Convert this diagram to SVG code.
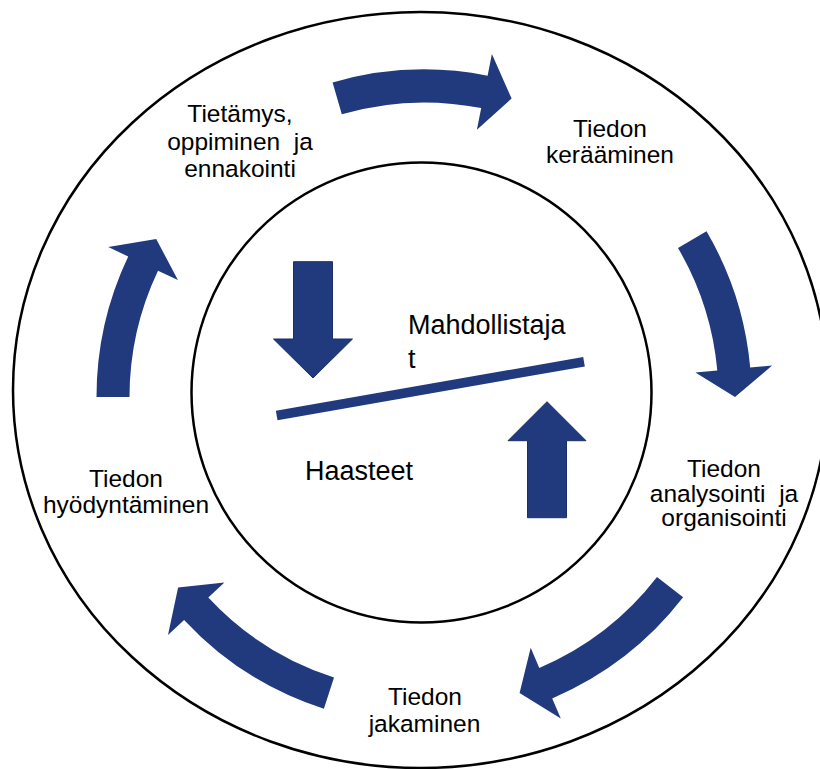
<svg xmlns="http://www.w3.org/2000/svg" width="820" height="769" viewBox="0 0 820 769">
  <style>
    .ring { fill: none; stroke: #000; stroke-width: 2.5; }
    .flow { fill: #213A7E; }
    .force { fill: #213A7E; stroke: #1A2F66; stroke-width: 1; }
    .lbl { font-family: "Liberation Sans", Arial, sans-serif; font-size: 24.5px; fill: #000; text-anchor: middle; }
    .mid { font-family: "Liberation Sans", Arial, sans-serif; font-size: 27px; fill: #000; }
  </style>
  <rect width="820" height="769" fill="#fff"/>

  <!-- rings -->
  <g id="rings">
    <ellipse class="ring" cx="420.5" cy="390" rx="407.5" ry="378"/>
    <circle class="ring" cx="421.5" cy="392.5" r="230"/>
  </g>

  <!-- cycle arrows (clockwise, centre 424,397, mid radius 311) -->
  <g id="connectors">
    <path class="flow" d="M332.6,82.5 A327.5,327.5 0 0 1 487.6,75.7 L491.9,54.1 L511.6,98.6 L476.9,129.7 L481.2,108.1 A294.5,294.5 0 0 0 341.8,114.2 Z"/>
    <path class="flow" d="M706.5,231.3 A327.5,327.5 0 0 1 750.2,367.6 L772.1,365.6 L735,397 L695.4,372.5 L717.3,370.6 A294.5,294.5 0 0 0 678,248 Z"/>
    <path class="flow" d="M683.1,597.3 A327.5,327.5 0 0 1 552.2,698.4 L560.8,718.6 L519.6,692.9 L530.7,647.8 L539.3,668 A294.5,294.5 0 0 0 657,577.1 Z"/>
    <path class="flow" d="M323.9,708.8 A327.5,327.5 0 0 1 184.1,619.9 L168,634.9 L178.1,587.4 L224.4,582.5 L208.3,597.5 A294.5,294.5 0 0 0 334,677.4 Z"/>
    <path class="flow" d="M96.5,397 A327.5,327.5 0 0 1 128.2,256.5 L108.3,247.1 L156.2,238.9 L177.9,280.1 L158,270.7 A294.5,294.5 0 0 0 129.5,397 Z"/>
  </g>

  <!-- cycle stages -->
  <g id="stage-learning">
    <text class="lbl" x="240" y="121.7">Tietämys,</text>
    <text class="lbl" x="240" y="149.5" xml:space="preserve">oppiminen  ja</text>
    <text class="lbl" x="240" y="176.7">ennakointi</text>
  </g>
  <g id="stage-collect">
    <text class="lbl" x="610" y="136.7">Tiedon</text>
    <text class="lbl" x="610" y="163.3">kerääminen</text>
  </g>
  <g id="stage-analyse">
    <text class="lbl" x="724" y="476.7">Tiedon</text>
    <text class="lbl" x="724" y="501.5" xml:space="preserve">analysointi  ja</text>
    <text class="lbl" x="724" y="526.3">organisointi</text>
  </g>
  <g id="stage-share">
    <text class="lbl" x="425" y="705">Tiedon</text>
    <text class="lbl" x="424.5" y="731.7">jakaminen</text>
  </g>
  <g id="stage-use">
    <text class="lbl" x="126" y="486.7">Tiedon</text>
    <text class="lbl" x="126" y="513.3">hyödyntäminen</text>
  </g>

  <!-- centre: balance of enablers and challenges -->
  <g id="enablers">
    <polygon class="force" points="293.5,261.7 332.5,261.7 332.5,339 352.5,339 313,378 273.5,339 293.5,339"/>
    <text class="mid" x="408" y="334.3">Mahdollistaja</text>
    <text class="mid" x="408" y="368.3">t</text>
  </g>
  <g id="balance">
    <line x1="276.7" y1="415.5" x2="584" y2="361.7" stroke="#213A7E" stroke-width="9.5"/>
  </g>
  <g id="challenges">
    <polygon class="force" points="527.5,517.7 566.5,517.7 566.5,440.7 586,440.7 547,401.7 508,440.7 527.5,440.7"/>
    <text class="mid" x="305" y="480">Haasteet</text>
  </g>
</svg>
